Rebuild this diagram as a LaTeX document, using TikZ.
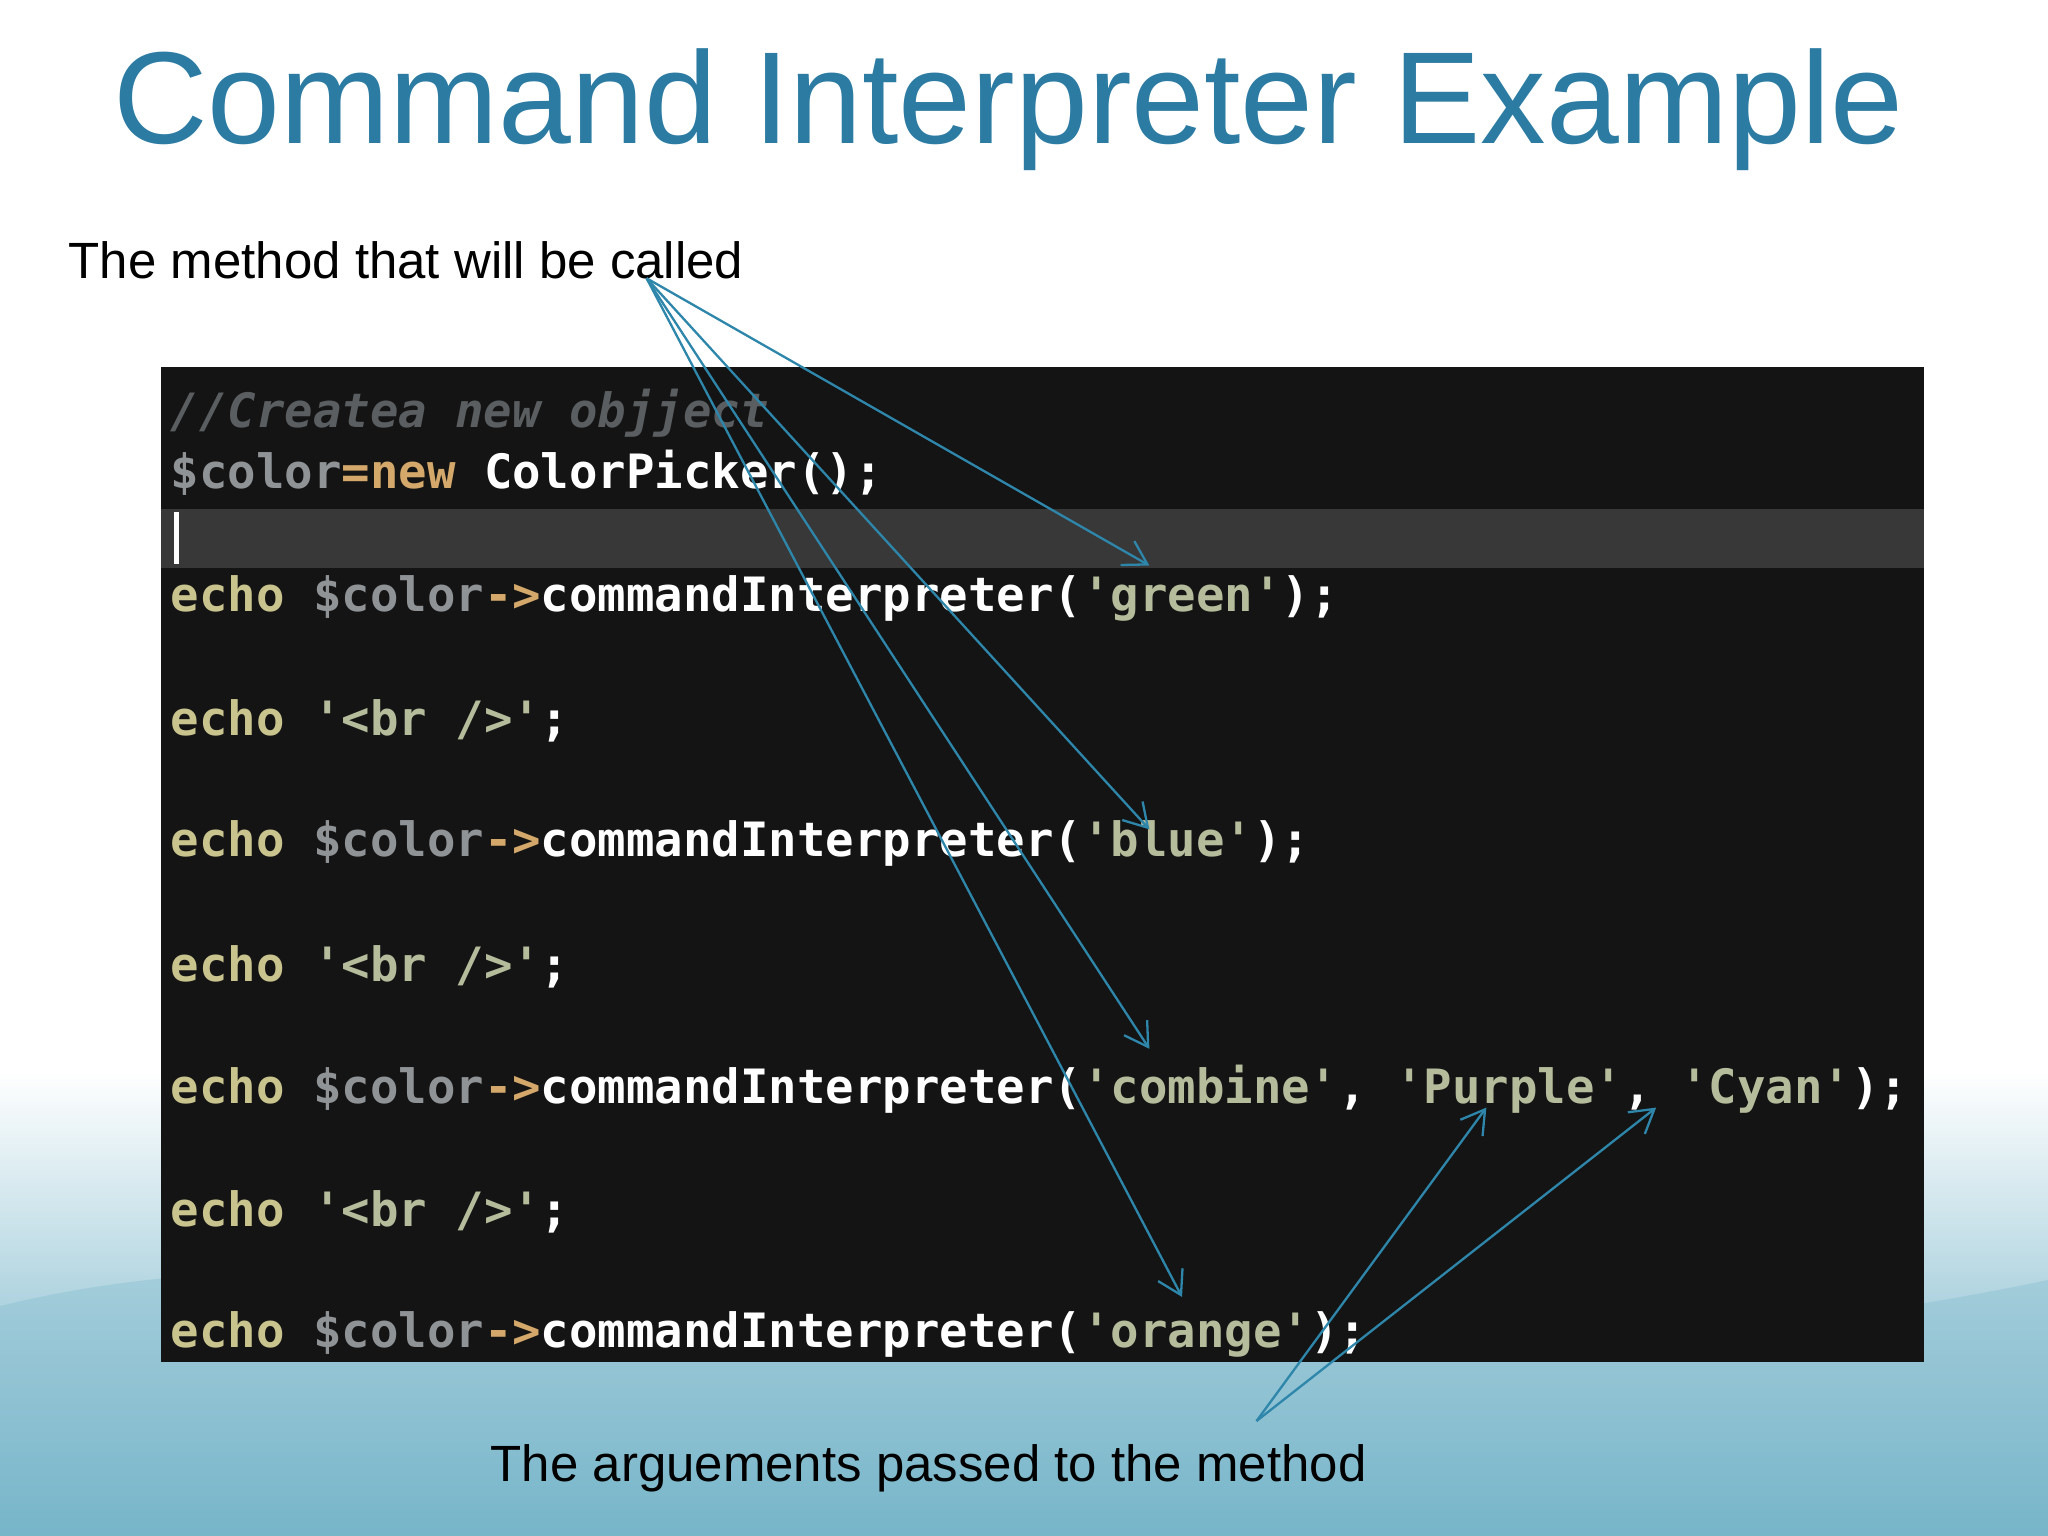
\documentclass[tikz,border=0pt]{standalone}
\usepackage{fontspec}
\setmainfont{Liberation Sans}
\newfontfamily\codefont{DejaVu Sans Mono}
\usetikzlibrary{arrows.meta}
\definecolor{ttl}{HTML}{2B7BA3}
\definecolor{arr}{HTML}{2E86AB}
\definecolor{kw}{HTML}{C9C48E}
\definecolor{var}{HTML}{8F9396}
\definecolor{op}{HTML}{D4A86A}
\definecolor{str}{HTML}{B5BC9C}
\definecolor{cmt}{HTML}{5A5E60}
\definecolor{bgb}{HTML}{5FA8C0}
\newcommand{\E}{\textcolor{kw}{echo} }
\newcommand{\C}{\textcolor{var}{\$color}\textcolor{op}{->}\textcolor{white}{commandInterpreter(}}
\begin{document}
\begin{tikzpicture}[x=0.01cm,y=-0.01cm,
  code/.style={anchor=west,inner sep=0pt,font=\codefont\bfseries\fontsize{10.3pt}{12pt}\selectfont},
  lbl/.style={inner sep=0pt,font=\fontsize{11.1pt}{13pt}\selectfont},
  ar/.style={draw=arr,line width=0.5pt,-{Straight Barb[length=5pt,width=6pt]}}]
\useasboundingbox (0,0) rectangle (1568,1176);
\fill[white] (0,0) rectangle (1568,1176);
\shade[top color=white,bottom color=bgb] (0,820) rectangle (1568,1176);
\fill[bgb!70!white,opacity=0.5] (0,1000) .. controls (400,900) and (900,1120) .. (1568,980) -- (1568,1176) -- (0,1176) -- cycle;
\node[text=ttl,font=\fontsize{28.5pt}{32pt}\selectfont,inner sep=0pt] (title) at (772,84) {Command Interpreter Example};
\node[lbl,anchor=west] (m) at (52,199) {The method that will be called};
\node[lbl] (a) at (711,1124) {The arguements passed to the method};
\fill[black!92] (123,281) rectangle (1473,1043);
\fill[black!78] (123,390) rectangle (1473,435);
\draw[white!70,line width=1.2pt] (135,392) -- (135,432);
\node[code] (l0) at (130,316) {\textcolor{cmt}{\itshape //Createa new objject}};
\node[code] (l1) at (130,362) {\textcolor{var}{\$color}\textcolor{op}{=new} \textcolor{white}{ColorPicker();}};
\node[code] (l2) at (130,458) {\E\C\textcolor{str}{'green'}\textcolor{white}{);}};
\node[code] (l3) at (130,552) {\E\textcolor{str}{'<br />'}\textcolor{white}{;}};
\node[code] (l4) at (130,646) {\E\C\textcolor{str}{'blue'}\textcolor{white}{);}};
\node[code] (l5) at (130,740) {\E\textcolor{str}{'<br />'}\textcolor{white}{;}};
\node[code] (l6) at (130,834) {\E\C\textcolor{str}{'combine'}\textcolor{white}{, }\textcolor{str}{'Purple'}\textcolor{white}{, }\textcolor{str}{'Cyan'}\textcolor{white}{);}};
\node[code] (l7) at (130,928) {\E\textcolor{str}{'<br />'}\textcolor{white}{;}};
\node[code] (l8) at (130,1022) {\E\C\textcolor{str}{'orange'}\textcolor{white}{);}};
\coordinate (ms) at (495,213);
\coordinate (as) at (962,1088);
\coordinate (t1) at (880,433);
\coordinate (t2) at (880,635);
\coordinate (t3) at (880,803);
\coordinate (t4) at (905,993);
\coordinate (t5) at (1138,848);
\coordinate (t6) at (1268,848);
\draw[ar] (ms) -- (t1);
\draw[ar] (ms) -- (t2);
\draw[ar] (ms) -- (t3);
\draw[ar] (ms) -- (t4);
\draw[ar] (as) -- (t5);
\draw[ar] (as) -- (t6);
\end{tikzpicture}
\end{document}
